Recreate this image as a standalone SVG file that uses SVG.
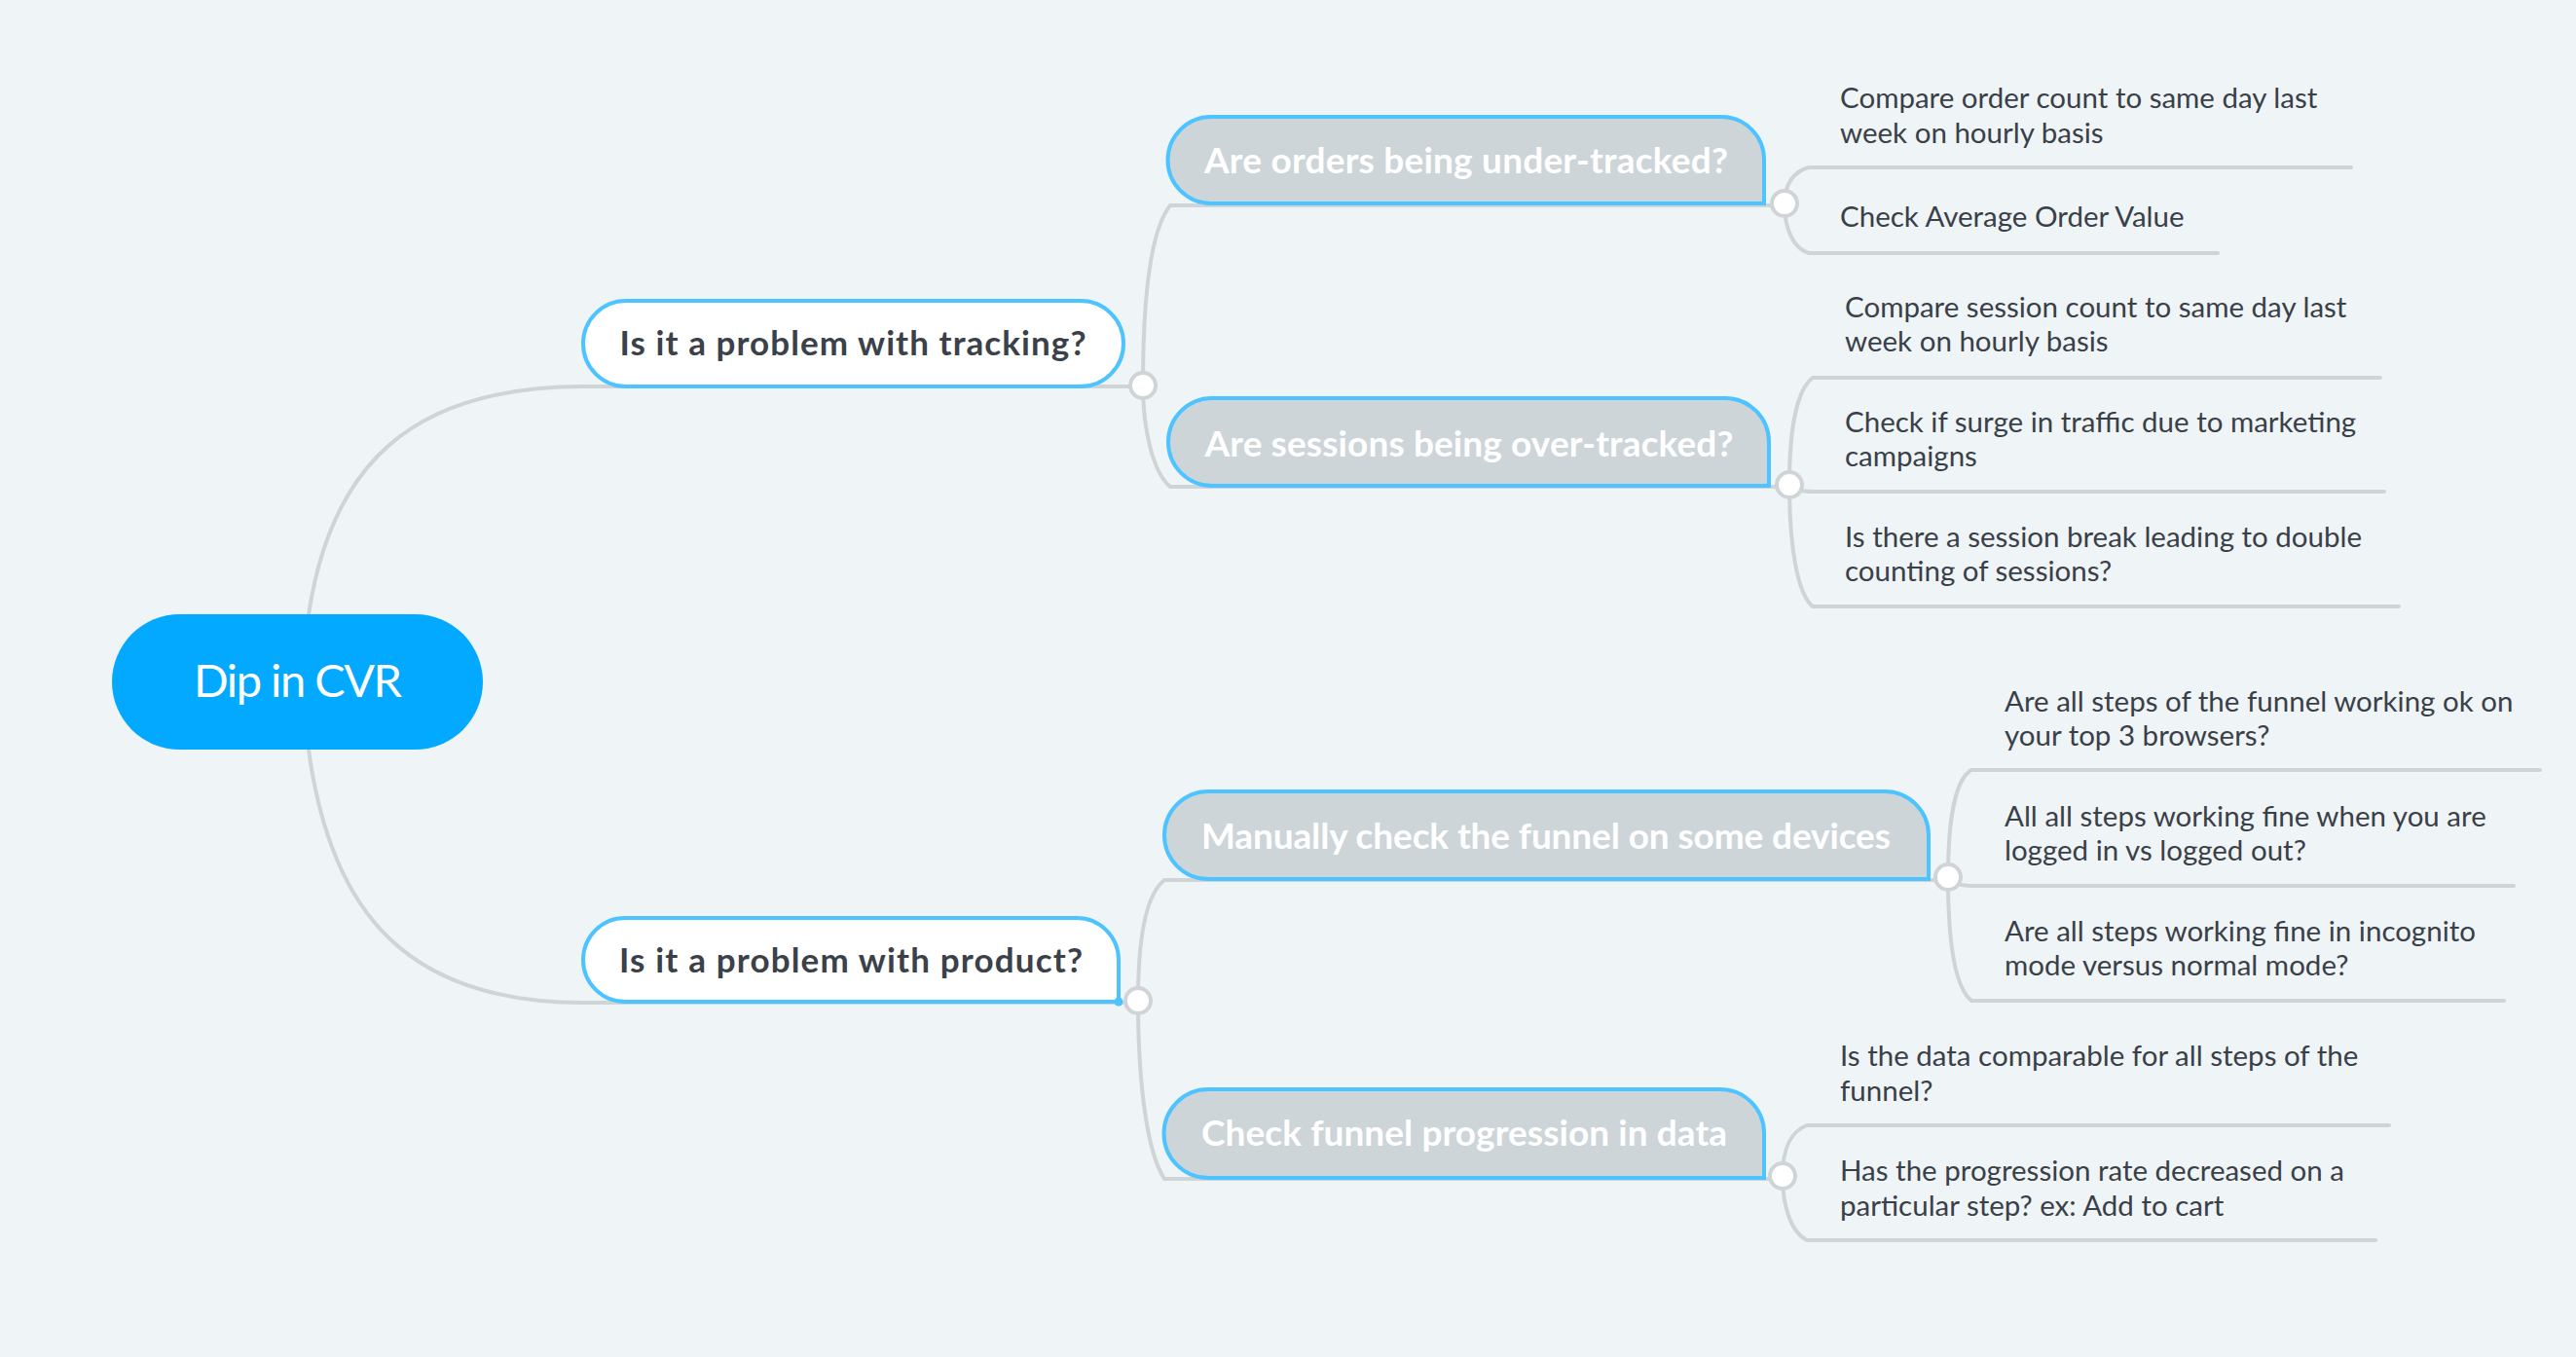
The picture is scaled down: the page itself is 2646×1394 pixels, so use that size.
<svg xmlns="http://www.w3.org/2000/svg" width="2646" height="1394" viewBox="0 0 2646 1394">
<style>
.conn{fill:none;stroke:#CFD4D7;stroke-width:4;stroke-linecap:round}
.dot{fill:#FFFFFF;stroke:#CFD4D7;stroke-width:4}
.sub{fill:#CDD5D9;stroke:#4DC4FF;stroke-width:4}
.main{fill:#FFFFFF;stroke:#4DC4FF;stroke-width:4}
.t-root{font-family:Lato,"Noto Sans",sans-serif;font-size:47px;fill:#FFFFFF;text-anchor:middle}
.t-main{font-family:Lato,"Noto Sans",sans-serif;font-size:35px;font-weight:700;fill:#3B4149;text-anchor:middle}
.t-sub{font-family:Lato,"Noto Sans",sans-serif;font-size:37px;font-weight:700;fill:#FFFFFF;text-anchor:middle}
.t-leaf{font-family:Lato,"Noto Sans",sans-serif;font-size:29.5px;fill:#3A4048}
</style>
<rect x="0" y="0" width="2646" height="1394" fill="#EFF4F7"/>

<g id="connectors">
  <path class="conn" d="M317,631 C340,480 420,397 600,397 L1161,397"/>
  <path class="conn" d="M317,770 C340,940 420,1030 600,1030 L1156,1030"/>
  <path class="conn" d="M1174,396 C1174,300 1183,235 1202,211 L1820,211"/>
  <path class="conn" d="M1174,396 C1174,440 1184,485 1202,500 L1825,500"/>
  <path class="conn" d="M1833,209 C1833,190 1842,176 1858,172 L2415,172"/>
  <path class="conn" d="M1833,209 C1833,235 1842,255 1858,260 L2278,260"/>
  <path class="conn" d="M1838,498 C1838,440 1846,400 1862,388 L2445,388"/>
  <path class="conn" d="M1838,498 C1842,503 1850,505 1862,505 L2449,505"/>
  <path class="conn" d="M1838,498 C1838,560 1846,610 1862,623 L2464,623"/>
  <path class="conn" d="M1169,1028 C1169,970 1176,920 1196,904 L1990,904"/>
  <path class="conn" d="M1169,1028 C1169,1100 1176,1180 1196,1211 L1820,1211"/>
  <path class="conn" d="M2001,901 C2001,840 2009,800 2025,791 L2609,791"/>
  <path class="conn" d="M2001,901 C2005,907 2013,910 2025,910 L2582,910"/>
  <path class="conn" d="M2001,901 C2001,970 2009,1015 2025,1028 L2572,1028"/>
  <path class="conn" d="M1831,1208 C1831,1180 1840,1162 1856,1156 L2454,1156"/>
  <path class="conn" d="M1831,1208 C1831,1240 1840,1266 1856,1274 L2440,1274"/>
  <circle class="dot" cx="1174" cy="396" r="13"/>
  <circle class="dot" cx="1169" cy="1028" r="13"/>
  <circle class="dot" cx="1833" cy="209" r="13"/>
  <circle class="dot" cx="1838" cy="498" r="13"/>
  <circle class="dot" cx="2001" cy="901" r="13"/>
  <circle class="dot" cx="1831" cy="1208" r="13"/>
</g>

<g id="root">
  <rect x="115" y="631" width="381" height="139" rx="69.5" fill="#02A9FF"/>
  <text class="t-root" x="306" y="716" textLength="214">Dip in CVR</text>
</g>

<g id="tracking">
  <rect class="main" x="599" y="309" width="555" height="88" rx="44"/>
  <text class="t-main" x="876" y="365" textLength="479">Is it a problem with tracking?</text>
</g>

<g id="product">
  <path class="main" d="M642,943 H1106 A43,43 0 0 1 1149,986 V1029 H642 A43,43 0 0 1 642,943 Z"/>
  <circle cx="1149" cy="1029" r="4.5" fill="#4DC4FF"/>
  <text class="t-main" x="874" y="999" textLength="476">Is it a problem with product?</text>
</g>

<g id="orders">
  <path class="sub" d="M1244,120 H1768 A44,44 0 0 1 1812,164 V209 H1244 A44.5,44.5 0 0 1 1244,120 Z"/>
  <text class="t-sub" x="1506" y="178" textLength="538">Are orders being under-tracked?</text>
</g>

<g id="sessions">
  <path class="sub" d="M1245,409 H1772 A45,45 0 0 1 1817,454 V499 H1245 A45,45 0 0 1 1245,409 Z"/>
  <text class="t-sub" x="1509" y="469" textLength="543">Are sessions being over-tracked?</text>
</g>

<g id="manually">
  <path class="sub" d="M1241,813 H1936 A45,45 0 0 1 1981,858 V903 H1241 A45,45 0 0 1 1241,813 Z"/>
  <text class="t-sub" x="1588" y="872" textLength="708">Manually check the funnel on some devices</text>
</g>

<g id="checkfunnel">
  <path class="sub" d="M1241,1119 H1767 A45,45 0 0 1 1812,1164 V1210 H1241 A45.5,45.5 0 0 1 1241,1119 Z"/>
  <text class="t-sub" x="1504" y="1177" textLength="540">Check funnel progression in data</text>
</g>

<g id="leaf-order-count">
  <text class="t-leaf" x="1890" y="111">Compare order count to same day last</text>
  <text class="t-leaf" x="1890" y="147">week on hourly basis</text>
</g>
<g id="leaf-aov">
  <text class="t-leaf" x="1890" y="233">Check Average Order Value</text>
</g>
<g id="leaf-session-count">
  <text class="t-leaf" x="1895" y="326">Compare session count to same day last</text>
  <text class="t-leaf" x="1895" y="361">week on hourly basis</text>
</g>
<g id="leaf-surge">
  <text class="t-leaf" x="1895" y="444">Check if surge in traffic due to marketing</text>
  <text class="t-leaf" x="1895" y="479">campaigns</text>
</g>
<g id="leaf-session-break">
  <text class="t-leaf" x="1895" y="562">Is there a session break leading to double</text>
  <text class="t-leaf" x="1895" y="597">counting of sessions?</text>
</g>
<g id="leaf-browsers">
  <text class="t-leaf" x="2059" y="731">Are all steps of the funnel working ok on</text>
  <text class="t-leaf" x="2059" y="766">your top 3 browsers?</text>
</g>
<g id="leaf-logged">
  <text class="t-leaf" x="2059" y="849">All all steps working fine when you are</text>
  <text class="t-leaf" x="2059" y="884">logged in vs logged out?</text>
</g>
<g id="leaf-incognito">
  <text class="t-leaf" x="2059" y="967">Are all steps working fine in incognito</text>
  <text class="t-leaf" x="2059" y="1002">mode versus normal mode?</text>
</g>
<g id="leaf-data">
  <text class="t-leaf" x="1890" y="1095">Is the data comparable for all steps of the</text>
  <text class="t-leaf" x="1890" y="1131">funnel?</text>
</g>
<g id="leaf-progression">
  <text class="t-leaf" x="1890" y="1213">Has the progression rate decreased on a</text>
  <text class="t-leaf" x="1890" y="1249">particular step? ex: Add to cart</text>
</g>
</svg>
